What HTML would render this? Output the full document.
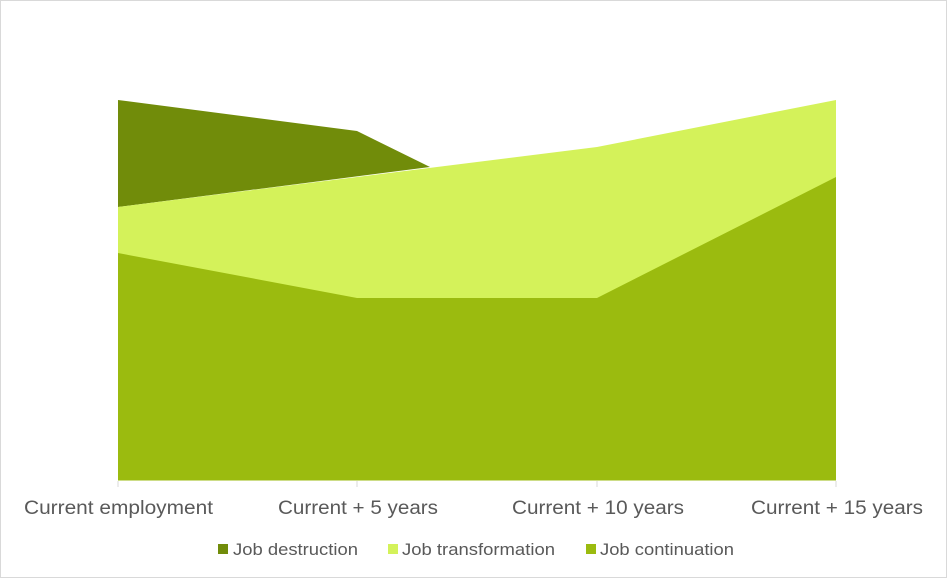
<!DOCTYPE html>
<html><head><style>
body{margin:0;background:#fff}
svg{display:block}
text{font-family:"Liberation Sans",sans-serif;fill:#595959}
</style></head><body>
<svg width="947" height="578" viewBox="0 0 947 578">
<rect x="0.5" y="0.5" width="946" height="577" fill="#fff" stroke="#d9d9d9"/>
<polygon points="118,100 357,131 430,167 118,207" fill="#718C0A"/>
<polygon points="118,207 357,177 597,147 836,100 836,480 118,480" fill="#D4F25A"/>
<polygon points="118,253 357,298 597,298 836,177 836,480 118,480" fill="#9BBB0F"/>
<line x1="118" y1="480" x2="836" y2="480" stroke="#9BBB0F" stroke-width="1"/>
<g stroke="#d9d9d9" stroke-width="1">
<line x1="118" y1="481" x2="118" y2="487"/><line x1="357" y1="481" x2="357" y2="487"/>
<line x1="597" y1="481" x2="597" y2="487"/><line x1="836" y1="481" x2="836" y2="487"/>
</g>
<g font-size="19">
<text x="24" y="514" textLength="189" lengthAdjust="spacingAndGlyphs">Current employment</text>
<text x="278" y="514" textLength="160" lengthAdjust="spacingAndGlyphs">Current + 5 years</text>
<text x="512" y="514" textLength="172" lengthAdjust="spacingAndGlyphs">Current + 10 years</text>
<text x="751" y="514" textLength="172" lengthAdjust="spacingAndGlyphs">Current + 15 years</text>
</g>
<g font-size="17">
<rect x="218" y="544" width="10" height="10" fill="#718C0A"/><text x="233" y="555" textLength="125" lengthAdjust="spacingAndGlyphs">Job destruction</text>
<rect x="388" y="544" width="10" height="10" fill="#D4F25A"/><text x="402" y="555" textLength="153" lengthAdjust="spacingAndGlyphs">Job transformation</text>
<rect x="586" y="544" width="10" height="10" fill="#9BBB0F"/><text x="600" y="555" textLength="134" lengthAdjust="spacingAndGlyphs">Job continuation</text>
</g>
</svg>
</body></html>
